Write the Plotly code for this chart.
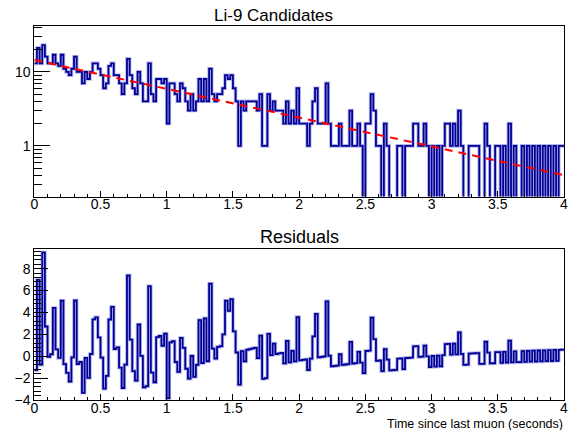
import numpy as np
import plotly.graph_objects as go

# ---------------- data ----------------
x_min, x_max, n_bins = 0.0, 4.0, 200

counts = [
    13, 21, 13, 23, 16, 13, 13, 17, 13, 12, 17, 11, 10, 9, 11, 16, 10, 10, 7, 10,
    8, 10, 13, 13, 11, 9, 6, 7, 12, 13, 9, 9, 7, 5, 7, 15, 9, 6, 5, 10,
    7, 4, 4, 13, 5, 4, 8, 8, 7, 8,
    2, 7, 7, 5, 4, 7, 6, 4, 3, 5, 3, 4, 8, 4, 8, 4, 11, 5, 4, 5,
    5, 6, 9, 8, 9, 6, 4, 1, 4, 3, 4, 4, 4, 4, 3, 5, 1, 1, 5, 3,
    4, 3, 3, 3, 2, 4, 2, 3, 2, 6,
    2, 2, 2, 1, 2, 4, 6, 2, 2, 2, 7, 2, 1, 1, 1, 2, 1, 1, 1, 3,
    1, 1, 2, 1, 0, 2, 2, 5, 3, 1, 1, 0, 2, 1, 0, 0, 0, 1, 1, 0,
    1, 1, 1, 2, 2, 1, 1, 2, 1, 0,
    1, 0, 1, 0, 1, 2, 2, 1, 2, 1, 3, 1, 0, 0, 1, 1, 1, 1, 0, 0,
    2, 1, 0, 0, 1, 1, 0, 1, 0, 2, 0, 1, 0, 0, 1, 0, 1, 0, 1, 0,
    1, 0, 1, 0, 1, 0, 1, 0, 1, 1,
]

# exponential fit parameters
fit_amp = 14.4
fit_rate = 0.895

top_title = "Li-9 Candidates"
bottom_title = "Residuals"
x_label = "Time since last muon (seconds)"
x_tick_vals = [0, 0.5, 1, 1.5, 2, 2.5, 3, 3.5, 4]
x_tick_text = ["0", "0.5", "1", "1.5", "2", "2.5", "3", "3.5", "4"]
res_tick_vals = [-4, -2, 0, 2, 4, 6, 8]
res_tick_text = ["\u22124", "\u22122", "0", "2", "4", "6", "8"]

# ---------------- derived ----------------
edges = np.linspace(x_min, x_max, n_bins + 1)
centers = 0.5 * (edges[:-1] + edges[1:])
cnt = np.array(counts, dtype=float)
fit_c = fit_amp * np.exp(-fit_rate * centers)
residuals = cnt - fit_c

step_x = edges
top_disp = np.where(cnt > 0, cnt, 1e-3)  # empty bins drop below the log axis
step_top = np.append(top_disp, top_disp[-1])
step_res = np.append(residuals, residuals[-1])

xf = np.linspace(x_min, x_max, 400)
yf = fit_amp * np.exp(-fit_rate * xf)

W, H = 575, 430
def px_x(p):
    return p / W
def px_y(p):
    return 1 - p / H

hist_col = "rgb(0,0,150)"
halo_col = "rgba(90,90,210,0.45)"
font_fam = "Liberation Sans, Arial, Helvetica, sans-serif"

fig = go.Figure()
fig.add_trace(go.Scatter(x=step_x, y=step_top, mode="lines", line=dict(color=halo_col, width=3.6, shape="hv"),
                         xaxis="x", yaxis="y", hoverinfo="skip", showlegend=False))
fig.add_trace(go.Scatter(x=step_x, y=step_top, mode="lines", line=dict(color=hist_col, width=1.8, shape="hv"),
                         xaxis="x", yaxis="y", showlegend=False))
fig.add_trace(go.Scatter(x=xf, y=yf, mode="lines", line=dict(color="rgb(255,0,0)", width=2, dash="8px,6px"),
                         xaxis="x", yaxis="y", showlegend=False))
fig.add_trace(go.Scatter(x=step_x, y=step_res, mode="lines", line=dict(color=halo_col, width=3.6, shape="hv"),
                         xaxis="x2", yaxis="y2", hoverinfo="skip", showlegend=False))
fig.add_trace(go.Scatter(x=step_x, y=step_res, mode="lines", line=dict(color=hist_col, width=1.8, shape="hv"),
                         xaxis="x2", yaxis="y2", showlegend=False))

xdom = [px_x(34.3), px_x(564)]
tick_font = dict(family=font_fam, size=14, color="black")

common_x = dict(
    range=[x_min, x_max], domain=xdom, showgrid=False, zeroline=False, automargin=False,
    showline=True, linecolor="black", linewidth=1, mirror=True,
    ticks="inside", ticklen=6, tickcolor="black", tickwidth=1,
    tickmode="array", tickvals=x_tick_vals, ticktext=x_tick_text,
    tickfont=tick_font, ticklabelstandoff=-5,
    minor=dict(ticks="inside", ticklen=3, tickcolor="black", dtick=0.1, tick0=0, showgrid=False),
)

minor_log = [0.3, 0.4, 0.5, 0.6, 0.7, 0.8, 0.9, 2, 3, 4, 5, 6, 7, 8, 9, 20, 30, 40]

fig.update_layout(
    width=W, height=H, autosize=False,
    margin=dict(l=0, r=0, t=0, b=0, pad=0, autoexpand=False),
    paper_bgcolor="white", plot_bgcolor="white",
    font=dict(family=font_fam, color="black"),
    xaxis=dict(anchor="y", **common_x),
    yaxis=dict(
        type="log", range=[-0.684, 1.619], domain=[px_y(196.5), px_y(26)], anchor="x",
        automargin=False,
        showgrid=False, zeroline=False, showline=True, linecolor="black", linewidth=1, mirror=True,
        ticks="inside", ticklen=16, tickcolor="black",
        tickmode="array", tickvals=[1, 10], ticktext=["1", "10"], tickfont=tick_font,
        minor=dict(ticks="inside", ticklen=8, tickcolor="black", tickmode="array", tickvals=minor_log, showgrid=False),
    ),
    xaxis2=dict(anchor="y2", **common_x),
    yaxis2=dict(
        range=[-4.0, 9.84], domain=[px_y(400), px_y(248.5)], anchor="x2",
        automargin=False,
        showgrid=False, zeroline=False, showline=True, linecolor="black", linewidth=1, mirror=True,
        ticks="inside", ticklen=14, tickcolor="black",
        tickmode="array", tickvals=res_tick_vals, ticktext=res_tick_text, tickfont=tick_font,
        minor=dict(ticks="inside", ticklen=7, tickcolor="black", dtick=0.4, tick0=0, showgrid=False),
    ),
    annotations=[
        dict(text=top_title, x=px_x(273), y=px_y(15.5), xref="paper", yref="paper",
             xanchor="center", yanchor="middle", showarrow=False,
             font=dict(family=font_fam, size=17, color="black")),
        dict(text=bottom_title, x=px_x(299), y=px_y(237), xref="paper", yref="paper",
             xanchor="center", yanchor="middle", showarrow=False,
             font=dict(family=font_fam, size=18, color="black")),
        dict(text=x_label, x=px_x(565), y=px_y(424), xref="paper", yref="paper",
             xanchor="right", yanchor="middle", showarrow=False,
             font=dict(family=font_fam, size=12.5, color="black")),
    ],
)

fig.write_html("out.html")
